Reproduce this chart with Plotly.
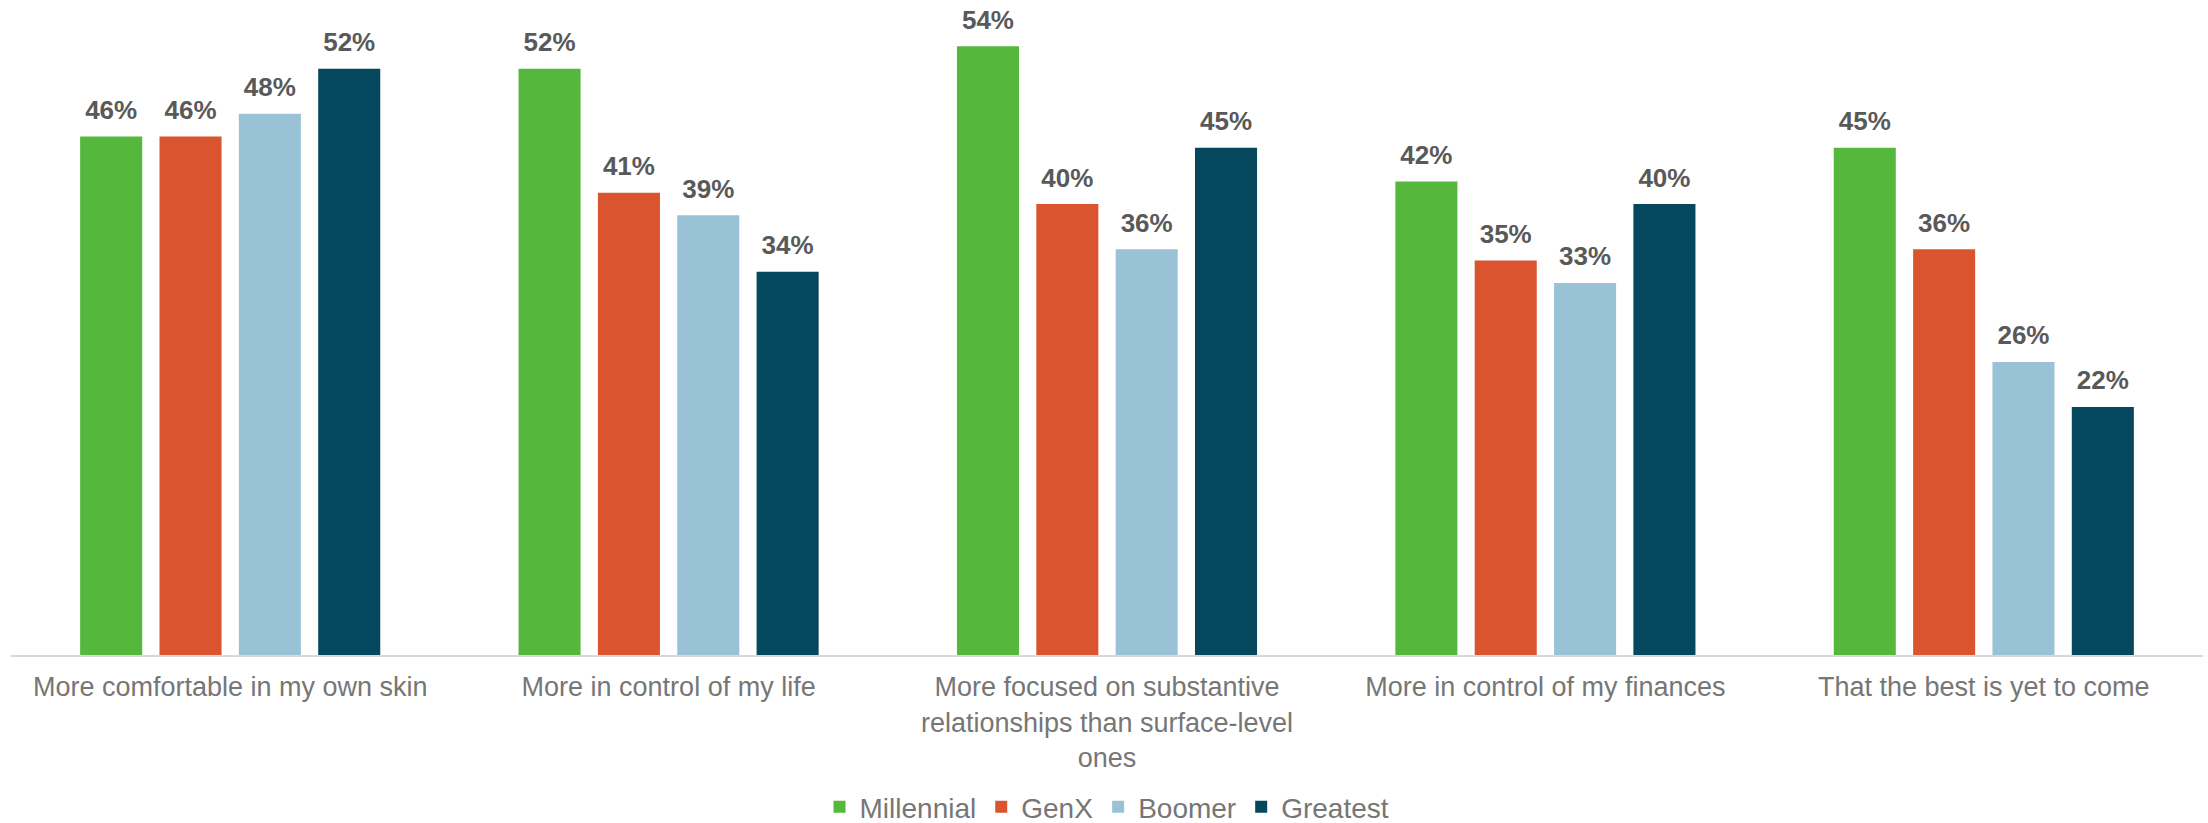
import plotly.graph_objects as go

categories = [
    "More comfortable in my own skin",
    "More in control of my life",
    "More focused on substantive<br>relationships than surface-level<br>ones",
    "More in control of my finances",
    "That the best is yet to come",
]
series_names = ["Millennial", "GenX", "Boomer", "Greatest"]
millennial = [46, 52, 54, 42, 45]
genx = [46, 41, 40, 35, 36]
boomer = [48, 39, 36, 33, 26]
greatest = [52, 34, 45, 40, 22]
colors = ["#55B73C", "#DA552F", "#9AC2D6", "#05475C"]

fig = go.Figure()
for name, vals, col in zip(series_names, [millennial, genx, boomer, greatest], colors):
    fig.add_trace(go.Bar(
        name=name, x=categories, y=vals,
        marker=dict(color=col, line=dict(width=0)),
        hoverinfo="x+y+name",
    ))
# value labels, grouped like the bars
for name, vals in zip(series_names, [millennial, genx, boomer, greatest]):
    fig.add_trace(go.Scatter(
        x=categories, y=vals, mode="markers+text",
        marker=dict(size=16, opacity=0),
        text=[f"{v}%" for v in vals], textposition="top center",
        textfont=dict(family="Liberation Sans, Arial", size=26, color="#595959", weight="bold"),
        showlegend=False, hoverinfo="skip", cliponaxis=False,
    ))

fig.update_layout(
    width=2208, height=823,
    margin=dict(l=11, r=5, t=0, b=168, autoexpand=False),
    barmode="group", bargap=0.276, bargroupgap=0.218,
    scattermode="group", scattergap=0.276,
    plot_bgcolor="white", paper_bgcolor="white",
    font=dict(family="Liberation Sans, Arial", color="#767676"),
    xaxis=dict(showline=True, linecolor="#D9D9D9", linewidth=2, ticks="",
               tickfont=dict(size=27, color="#767676"), ticklabelstandoff=7,
               showgrid=False, zeroline=False, automargin=False),
    yaxis=dict(range=[0, 58.1], visible=False, showgrid=False, zeroline=False,
               automargin=False),
    legend=dict(orientation="h", x=0.5, xanchor="center", y=-0.232, yanchor="middle",
                font=dict(size=28, color="#767676"), traceorder="normal",
                itemwidth=30),
    showlegend=True,
)
fig.write_html("out.html")
